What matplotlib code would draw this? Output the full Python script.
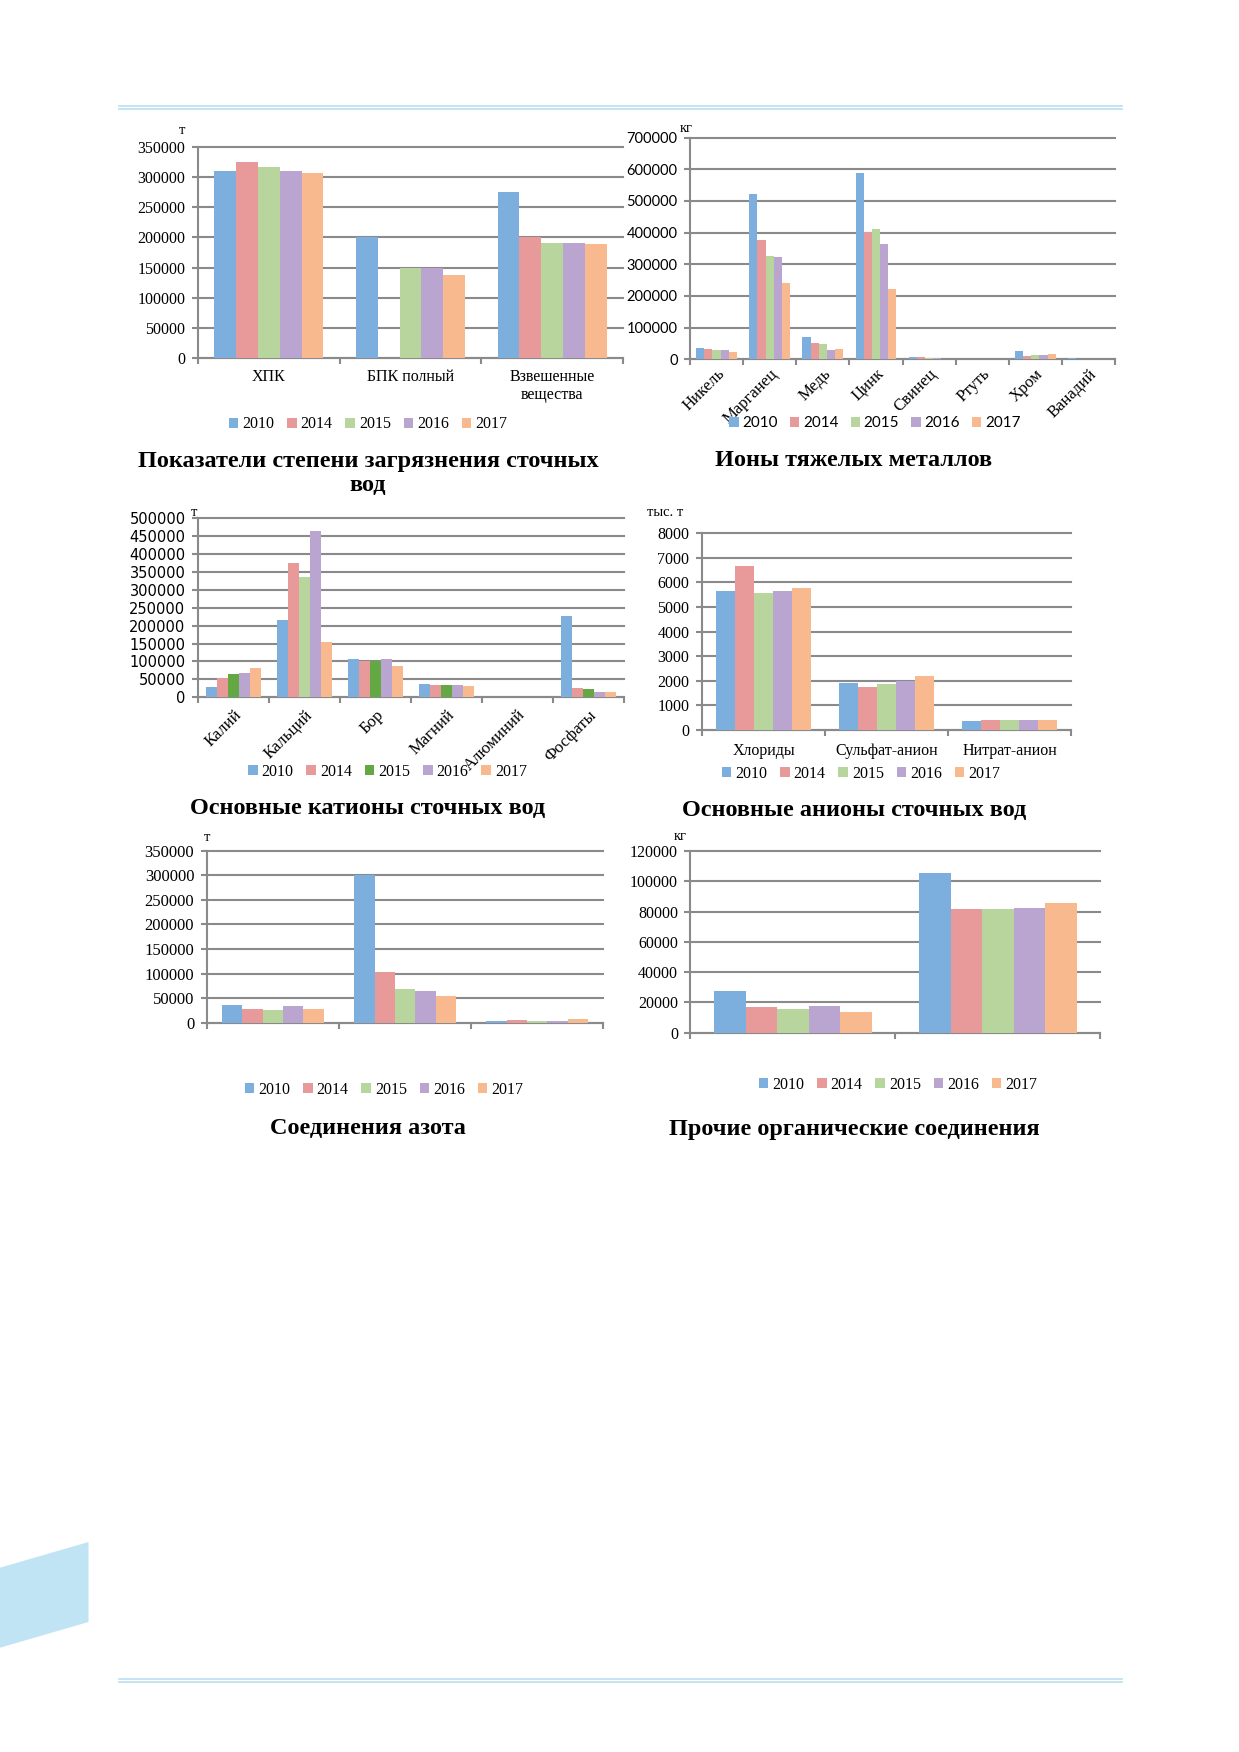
import matplotlib.pyplot as plt
from matplotlib.patches import Patch, Polygon
import numpy as np

years = ['2010', '2014', '2015', '2016', '2017']
colors = ['#7cafdd', '#e89a9b', '#b7d59c', '#b9a5cf', '#f9b98e']
dark_green = '#64a844'
GRID = '#8a8a8a'

# Показатели степени загрязнения сточных вод, т
pollution_cats = ['ХПК', 'БПК полный', 'Взвешенные\nвещества']
pollution_values = [
    [310000, 200000, 275000],
    [324000, 0, 200000],
    [316000, 150000, 190000],
    [309000, 150000, 190000],
    [307000, 138000, 189000],
]

# Ионы тяжелых металлов, кг
metals_cats = ['Никель', 'Марганец', 'Медь', 'Цинк', 'Свинец', 'Ртуть', 'Хром', 'Ванадий']
metals_values = [
    [36800, 523000, 71600, 587000, 6000, 300, 25300, 5000],
    [32600, 376000, 51600, 401000, 6000, 200, 11600, 500],
    [28400, 326000, 48400, 410000, 3000, 200, 13700, 500],
    [28400, 324000, 30500, 364000, 3000, 200, 13700, 500],
    [23200, 240000, 31600, 222000, 2000, 200, 16800, 500],
]

# Основные катионы сточных вод, т
cations_cats = ['Калий', 'Кальций', 'Бор', 'Магний', 'Алюминий', 'Фосфаты']
cations_values = [
    [28900, 216000, 106000, 37200, 300, 226000],
    [54000, 374000, 100600, 34400, 300, 26000],
    [65200, 335000, 100600, 34400, 300, 24200],
    [68000, 464000, 106000, 34400, 300, 15800],
    [82900, 154600, 88500, 32600, 300, 15800],
]

# Основные анионы сточных вод, тыс. т
anions_cats = ['Хлориды', 'Сульфат-анион', 'Нитрат-анион']
anions_values = [
    [5650, 1905, 350],
    [6680, 1760, 420],
    [5570, 1865, 420],
    [5650, 1985, 392],
    [5760, 2200, 392],
]

# Соединения азота, т
nitrogen_cats = ['', '', '']
nitrogen_values = [
    [36600, 300000, 2700],
    [27100, 103800, 4700],
    [25100, 68500, 4100],
    [34600, 64400, 4100],
    [27100, 54900, 6800],
]

# Прочие органические соединения, кг
organic_cats = ['', '']
organic_values = [
    [27300, 105500],
    [17200, 81700],
    [15400, 81700],
    [17800, 82400],
    [13650, 85400],
]

W, H = 1239, 1752
fig = plt.figure(figsize=(W / 100, H / 100), dpi=100)

bg = fig.add_axes([0, 0, 1, 1], zorder=-1)
bg.set_xlim(0, W)
bg.set_ylim(H, 0)
bg.axis('off')

# page decoration
for yy in (105.7, 108.6, 1679, 1681.9):
    bg.plot([118.6, 1122], [yy, yy], color='#bfe2f2', lw=1.3)
bg.add_patch(Polygon([(0, 1567.7), (88.5, 1542), (88.5, 1622), (0, 1647.7)],
                     closed=True, facecolor='#c0e4f4', edgecolor='none'))

SERIF = 'Liberation Serif'


def px_axes(x0, y0, x1, y1):
    return fig.add_axes([x0 / W, 1 - y1 / H, (x1 - x0) / W, (y1 - y0) / H])


def draw_chart(rect, cats, values, ymax, ystep, tick_font, tick_size,
               rotate=False, bar_colors=None, cat_pad=10):
    ax = px_axes(*rect)
    n = len(cats)
    w = 1 / 6.5
    x = np.arange(n) + 0.5
    for k, row in enumerate(values):
        c = colors[k] if bar_colors is None else bar_colors[k]
        ax.bar(x + (k - 2) * w, row, width=w, color=c, linewidth=0, zorder=3)
    ax.set_xlim(0, n)
    ax.set_ylim(0, ymax)
    ax.set_yticks(np.arange(0, ymax + 1, ystep))
    ax.yaxis.grid(True, color=GRID, lw=1.5)
    for gl in ax.get_ygridlines():
        gl.set_clip_on(False)
    ax.set_axisbelow(True)
    for s in ['top', 'right']:
        ax.spines[s].set_visible(False)
    for s in ['left', 'bottom']:
        ax.spines[s].set_color(GRID)
        ax.spines[s].set_linewidth(1.5)
    ax.set_xticks(np.arange(n + 1))
    ax.set_xticklabels([])
    ax.tick_params(axis='x', which='major', length=4, width=1.5, color=GRID)
    ax.set_xticks(x, minor=True)
    if rotate:
        ax.set_xticklabels(cats, minor=True, rotation=45, ha='right',
                           rotation_mode='anchor', fontfamily=SERIF, fontsize=12)
    else:
        ax.set_xticklabels(cats, minor=True, fontfamily=SERIF, fontsize=11.5,
                           linespacing=1.15)
    ax.tick_params(axis='x', which='minor', length=0, pad=cat_pad)
    ax.tick_params(axis='y', length=4, width=1.5, color=GRID, pad=5, labelsize=tick_size)
    for lab in ax.get_yticklabels():
        lab.set_fontfamily(tick_font)
    return ax


def legend(cx, cy, cols, font=SERIF, size=11.5):
    handles = [Patch(facecolor=c, edgecolor='none', label=y) for c, y in zip(cols, years)]
    fig.legend(handles=handles, loc='center', bbox_to_anchor=(cx / W, 1 - cy / H),
               ncol=5, frameon=False, handlelength=0.6, handleheight=0.6,
               handletextpad=0.25, columnspacing=0.8,
               prop={'family': font, 'size': size})


def title(cx, cy, s):
    bg.text(cx, cy, s, ha='center', va='center', fontsize=17.5, fontweight='bold',
            family=SERIF, linespacing=1.15)


def unit(x, y, s, size=10.5):
    bg.text(x, y, s, ha='center', va='center', fontsize=size, family=SERIF)


# 1
draw_chart((198, 146.7, 623, 358.3), pollution_cats, pollution_values,
           350000, 50000, SERIF, 11.5, cat_pad=8)
legend(368, 424.3, colors)
title(368, 473.5, 'Показатели степени загрязнения сточных\nвод')
unit(182, 130, 'т')

# 2
draw_chart((690, 137.5, 1115, 359.2), metals_cats, metals_values,
           700000, 100000, 'Lato', 10.5, rotate=True, cat_pad=5)
legend(875, 423.3, colors, font='Lato', size=11)
title(854, 460, 'Ионы тяжелых металлов')
unit(686, 128, 'кг')

# 3
cation_colors = list(colors)
cation_colors[2] = [dark_green, colors[2], dark_green, dark_green, dark_green, dark_green]
draw_chart((198, 518.3, 624, 697.3), cations_cats, cations_values,
           500000, 50000, 'DejaVu Sans', 10.5, rotate=True, bar_colors=cation_colors, cat_pad=7)
legend_cols = list(colors)
legend_cols[2] = dark_green
legend(387.5, 771.7, legend_cols)
title(368, 808.3, 'Основные катионы сточных вод')
unit(194, 513, 'т')

# 4
draw_chart((702, 533.3, 1071, 730), anions_cats, anions_values,
           8000, 1000, SERIF, 11.5, cat_pad=9)
legend(861, 774, colors)
title(854, 810.7, 'Основные анионы сточных вод')
unit(665, 513, 'тыс. т')

# 5
draw_chart((206.7, 850.7, 603.4, 1022.7), nitrogen_cats, nitrogen_values,
           350000, 50000, SERIF, 12)
legend(384, 1090, colors)
title(368, 1129, 'Соединения азота')
unit(206.7, 837.3, 'т')

# 6
draw_chart((690.4, 851, 1100.4, 1032.7), organic_cats, organic_values,
           120000, 20000, SERIF, 11.5)
legend(898, 1085, colors)
title(854, 1130, 'Прочие органические соединения')
unit(680.7, 836.7, 'кг')

fig.savefig('out.png', dpi=100, facecolor='white')
